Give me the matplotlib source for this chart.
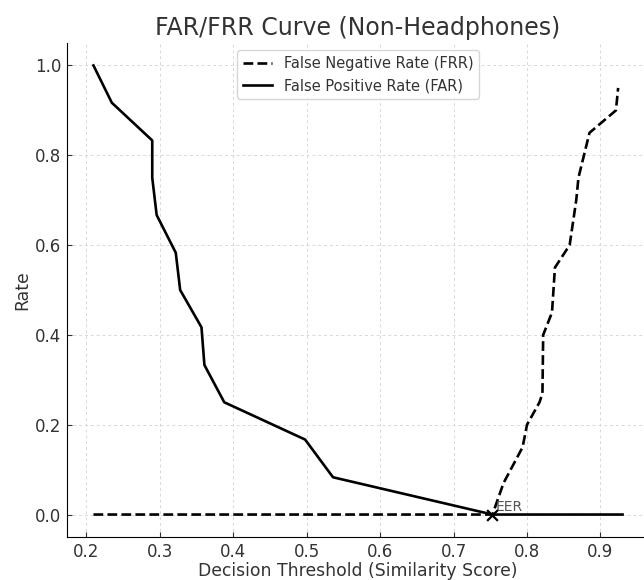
import matplotlib
matplotlib.use("Agg")
import matplotlib.pyplot as plt

# FAR curve (solid)
far_thr = [0.21, 0.235, 0.29, 0.29, 0.296, 0.322, 0.328, 0.357, 0.361, 0.388,
           0.498, 0.536, 0.753, 0.93]
far_rate = [1.0, 0.917, 0.833, 0.75, 0.667, 0.583, 0.5, 0.417, 0.333, 0.25,
            0.167, 0.083, 0.0, 0.0]

# FRR curve (dashed)
frr_thr = [0.21, 0.753, 0.768, 0.794, 0.800, 0.817, 0.821, 0.822, 0.834,
           0.838, 0.858, 0.867, 0.870, 0.885, 0.921, 0.924]
frr_rate = [0.0, 0.0, 0.07, 0.15, 0.20, 0.25, 0.27, 0.40, 0.45,
            0.55, 0.60, 0.70, 0.75, 0.85, 0.90, 0.95]

eer_x, eer_y = 0.753, 0.0

text_col = '#333333'
plt.rcParams['text.color'] = text_col
plt.rcParams['axes.labelcolor'] = text_col
plt.rcParams['xtick.color'] = text_col
plt.rcParams['ytick.color'] = text_col

fig = plt.figure(figsize=(6.44, 5.80), dpi=100)
ax = fig.add_axes([67 / 644, (580 - 537) / 580, 582 / 644, 494 / 580])

ax.plot(frr_thr, frr_rate, 'k--', lw=1.9, label='False Negative Rate (FRR)')
ax.plot(far_thr, far_rate, 'k-', lw=1.9, label='False Positive Rate (FAR)')
ax.scatter([eer_x], [eer_y], marker='x', color='black', s=60, linewidths=1.6, zorder=5)
ax.text(eer_x + 0.004, eer_y + 0.008, 'EER', fontsize=10, color='#555555')

ax.set_xlim(0.174, 0.966)
ax.set_ylim(-0.05, 1.05)
ax.set_xticks([0.2, 0.3, 0.4, 0.5, 0.6, 0.7, 0.8, 0.9])
ax.set_yticks([0.0, 0.2, 0.4, 0.6, 0.8, 1.0])
ax.tick_params(direction='in', labelsize=12, pad=4)
ax.grid(True, linestyle=(0, (3, 3)), color='#d8d8d8', linewidth=0.7)
ax.spines['top'].set_visible(False)
ax.spines['right'].set_visible(False)

ax.set_title('FAR/FRR Curve (Non-Headphones)', fontsize=17)
ax.set_xlabel('Decision Threshold (Similarity Score)', fontsize=12.4, labelpad=1)
ax.set_ylabel('Rate', fontsize=12.4, labelpad=3)
ax.legend(loc='upper center', fontsize=10.5)

fig.savefig('out.png', dpi=100)
